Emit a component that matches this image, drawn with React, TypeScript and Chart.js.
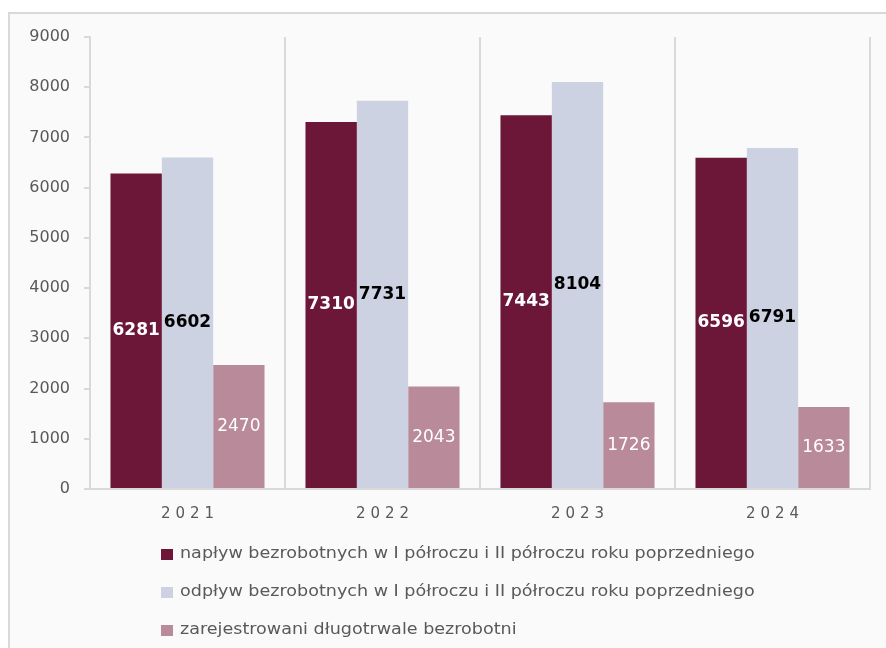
import React, { useEffect, useRef } from "react";
import { Chart, registerables } from "chart.js";

Chart.register(...registerables);

const categories = ["2021", "2022", "2023", "2024"];
const inflow = [6281, 7310, 7443, 6596];
const outflow = [6602, 7731, 8104, 6791];
const longTerm = [2470, 2043, 1726, 1633];
const seriesLabels = [
  "napływ bezrobotnych w I półroczu i II półroczu roku poprzedniego",
  "odpływ bezrobotnych w I półroczu i II półroczu roku poprzedniego",
  "zarejestrowani długotrwale bezrobotni",
];
const yMin = 0;
const yMax = 9000;
const yStep = 1000;

const COLORS = ["#6C1638", "#CCD2E2", "#B98A99"];
const LABEL_COLORS = ["#FFFFFF", "#000000", "#FFFFFF"];
const LABEL_FONTS = ["bold 17px 'DejaVu Sans'", "bold 17px 'DejaVu Sans'", "17px 'DejaVu Sans'"];
const TEXT_GRAY = "#595959";
const LINE_GRAY = "#D9D9D9";

const valueLabels = {
  id: "valueLabels",
  afterDatasetsDraw(chart: any) {
    const ctx = chart.ctx;
    ctx.save();
    ctx.textAlign = "center";
    ctx.textBaseline = "middle";
    chart.data.datasets.forEach((ds: any, di: number) => {
      const meta = chart.getDatasetMeta(di);
      meta.data.forEach((bar: any, i: number) => {
        ctx.font = LABEL_FONTS[di];
        ctx.fillStyle = LABEL_COLORS[di];
        ctx.fillText(String(ds.data[i]), bar.x, (bar.y + bar.base) / 2);
      });
    });
    ctx.restore();
  },
};

const xLabels = {
  id: "xLabels",
  afterDraw(chart: any) {
    const ctx = chart.ctx;
    const xs = chart.scales.x;
    const spacing = 5;
    ctx.save();
    ctx.font = "15px 'DejaVu Sans'";
    ctx.fillStyle = TEXT_GRAY;
    ctx.textAlign = "center";
    ctx.textBaseline = "middle";
    (ctx as any).letterSpacing = spacing + "px";
    chart.data.labels.forEach((lab: string, i: number) => {
      ctx.fillText(lab, xs.getPixelForValue(i) + spacing / 2, chart.chartArea.bottom + 25);
    });
    ctx.restore();
  },
};

const customLegend = {
  id: "customLegend",
  afterDraw(chart: any) {
    const ctx = chart.ctx;
    ctx.save();
    ctx.font = "15px 'DejaVu Sans'";
    ctx.textAlign = "left";
    ctx.textBaseline = "middle";
    chart.data.datasets.forEach((ds: any, di: number) => {
      const y = 554 + di * 38;
      ctx.fillStyle = ds.backgroundColor;
      ctx.fillRect(161, y - 5, 12, 11);
      ctx.fillStyle = TEXT_GRAY;
      ctx.save();
      ctx.translate(180, y);
      ctx.scale(1.17, 1);
      ctx.fillText(ds.label, 0, 0);
      ctx.restore();
    });
    ctx.restore();
  },
};

export default function App() {
  const ref = useRef<HTMLCanvasElement>(null);
  useEffect(() => {
    if (!ref.current) return;
    const chart = new Chart(ref.current, {
      type: "bar",
      data: {
        labels: categories,
        datasets: [
          { label: seriesLabels[0], data: inflow, backgroundColor: COLORS[0] },
          { label: seriesLabels[1], data: outflow, backgroundColor: COLORS[1] },
          { label: seriesLabels[2], data: longTerm, backgroundColor: COLORS[2] },
        ],
      },
      options: {
        animation: false,
        responsive: false,
        devicePixelRatio: 1,
        layout: { padding: { top: 37, right: 16, bottom: 0, left: 0 } },
        datasets: { bar: { categoryPercentage: 0.79, barPercentage: 1 } },
        plugins: {
          legend: { display: false },
          tooltip: { enabled: false },
        },
        scales: {
          x: {
            afterFit: (s: any) => {
              s.height = 159;
            },
            ticks: { display: false },
            grid: {
              display: true,
              offset: true,
              color: LINE_GRAY,
              lineWidth: 2,
              drawTicks: false,
            },
            border: { display: true, color: LINE_GRAY, width: 2 },
          },
          y: {
            min: yMin,
            max: yMax,
            afterFit: (s: any) => {
              s.width = 90;
            },
            ticks: {
              stepSize: yStep,
              color: TEXT_GRAY,
              font: { family: "DejaVu Sans", size: 16 },
              padding: 14,
              callback: (v: any) => String(v),
            },
            grid: {
              drawOnChartArea: false,
              drawTicks: true,
              tickLength: 6,
              color: LINE_GRAY,
              lineWidth: 2,
            },
            border: { display: true, color: LINE_GRAY, width: 2 },
          },
        },
      },
      plugins: [valueLabels, xLabels, customLegend],
    });
    return () => chart.destroy();
  }, []);

  return (
    <div style={{ position: "fixed", left: 0, top: 0, width: 886, height: 648, background: "#FFFFFF", overflow: "hidden" }}>
      <div
        style={{
          position: "absolute",
          left: 8,
          top: 12,
          width: 900,
          height: 700,
          border: "2px solid #D9D9D9",
          background: "#FAFAFA",
        }}
      />
      <canvas ref={ref} width={886} height={648} style={{ position: "absolute", left: 0, top: 0 }} />
    </div>
  );
}
